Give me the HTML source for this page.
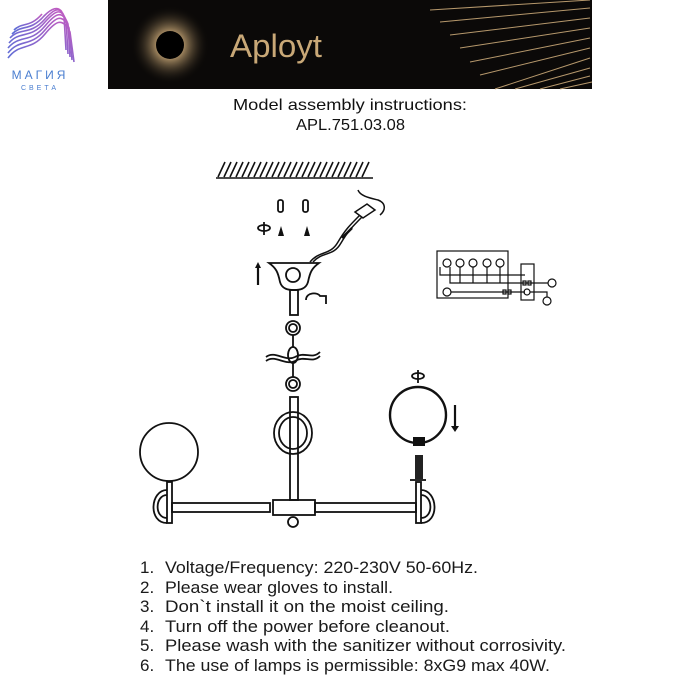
<!DOCTYPE html>
<html><head><meta charset="utf-8"><style>
html,body{margin:0;padding:0;background:#fff;width:700px;height:700px;overflow:hidden}
svg{display:block}
</style></head><body>
<svg width="700" height="700" viewBox="0 0 700 700" xmlns="http://www.w3.org/2000/svg">
<defs>
<linearGradient id="lg" x1="0" y1="1" x2="1" y2="0"><stop offset="0" stop-color="#5a6fd8"/><stop offset="1" stop-color="#c25bc0"/></linearGradient>
<radialGradient id="sun" cx="0.5" cy="0.5" r="0.5"><stop offset="0.3" stop-color="#c9a877"/><stop offset="1" stop-color="#000" stop-opacity="0"/></radialGradient>
</defs>
<!-- logo -->
<g fill="none" stroke="url(#lg)" stroke-width="1.6">
<path d="M8 58 C20 42 30 52 45 34 C55 22 62 16 70 32 L74 62"/>
<path d="M8 53 C20 38 30 48 45 30 C55 18 62 12 69 28 L72 60"/>
<path d="M8 48 C20 34 30 44 45 26 C55 14 62 9 68 24 L70 57"/>
<path d="M9 43 C20 30 30 40 45 22 C55 11 61 7 66 20 L68 54"/>
<path d="M10 38 C20 27 30 36 45 19 C54 9 60 6 64 16 L66 50"/>
<path d="M12 34 C22 24 30 32 44 16 C52 8 58 6 62 12"/>
<path d="M14 30 C22 22 30 28 42 14"/>
</g>
<text x="40" y="79" text-anchor="middle" font-family="Liberation Sans, DejaVu Sans, sans-serif" font-size="12" letter-spacing="3" fill="#4a7ed0">МАГИЯ</text>
<text x="40" y="90" text-anchor="middle" font-family="Liberation Sans, DejaVu Sans, sans-serif" font-size="7" letter-spacing="3" fill="#4a7ed0">СВЕТА</text>
<!-- banner -->
<rect x="108" y="0" width="484" height="89" fill="#0b0908"/>
<circle cx="170" cy="45" r="40" fill="url(#sun)" opacity="0.9"/>
<circle cx="170" cy="45" r="14" fill="#000"/>
<g stroke="#c9a877" stroke-width="1" opacity="0.9">
<line x1="430" y1="10" x2="590" y2="0"/><line x1="440" y1="22" x2="590" y2="8"/><line x1="450" y1="35" x2="590" y2="18"/>
<line x1="460" y1="48" x2="590" y2="28"/><line x1="470" y1="62" x2="590" y2="38"/><line x1="480" y1="75" x2="590" y2="48"/>
<line x1="495" y1="89" x2="590" y2="58"/><line x1="515" y1="89" x2="590" y2="68"/><line x1="540" y1="89" x2="590" y2="76"/>
<line x1="560" y1="89" x2="592" y2="82"/>
</g>
<text x="230" y="57" font-family="Liberation Sans, sans-serif" font-size="32" fill="#c9a877" textLength="92" lengthAdjust="spacingAndGlyphs">Aployt</text>
<!-- titles -->
<g font-family="Liberation Sans, sans-serif" font-size="16" fill="#111">
<text x="233" y="110" textLength="234" lengthAdjust="spacingAndGlyphs">Model assembly instructions:</text>
<text x="296" y="130" textLength="109" lengthAdjust="spacingAndGlyphs">APL.751.03.08</text>
</g>
<!-- ceiling -->
<g stroke="#111" stroke-width="1.6" fill="none">
<line x1="216" y1="178" x2="373" y2="178"/>
<path d="M218 177 l7 -15 M224 177 l7 -15 M230 177 l7 -15 M236 177 l7 -15 M242 177 l7 -15 M248 177 l7 -15 M254 177 l7 -15 M260 177 l7 -15 M266 177 l7 -15 M272 177 l7 -15 M278 177 l7 -15 M284 177 l7 -15 M290 177 l7 -15 M296 177 l7 -15 M302 177 l7 -15 M308 177 l7 -15 M314 177 l7 -15 M320 177 l7 -15 M326 177 l7 -15 M332 177 l7 -15 M338 177 l7 -15 M344 177 l7 -15 M350 177 l7 -15 M356 177 l7 -15 M362 177 l7 -15"/>
</g>
<!-- screws and plugs -->
<g stroke="#111" stroke-width="1.8" fill="none">
<rect x="278" y="200" width="5" height="12" rx="2"/><rect x="303" y="200" width="5" height="12" rx="2"/>
<ellipse cx="264" cy="228" rx="6" ry="3"/><line x1="264" y1="222" x2="264" y2="235"/>
</g>
<path d="M278 236 l3 -10 l3 10 z M304 236 l3 -10 l3 10 z" fill="#111"/>
<!-- wire -->
<g stroke="#111" stroke-width="1.5" fill="none">
<path d="M310 262 C320 250 330 256 338 242 C345 230 350 225 360 215"/>
<path d="M313 262 C323 251 333 257 341 243 C348 231 353 226 362 217"/>
<path d="M358 190 C360 196 370 198 378 200 C386 203 386 210 380 215"/>
<path d="M355 212 l12 -8 l8 6 l-12 8 z"/>
<line x1="342" y1="238" x2="352" y2="228" stroke-width="2.5"/>
</g>
<!-- canopy -->
<g stroke="#111" stroke-width="1.8" fill="none">
<path d="M269 263 L319 263 C312 268 310 272 308 282 C306 289 300 290 294 290 C288 290 282 289 280 282 C278 272 276 268 269 263 Z"/>
<circle cx="293" cy="275" r="7"/>
<rect x="290" y="290" width="8" height="25"/>
<path d="M306 300 C306 292 318 292 320 296 L326 296 L326 304"/>
<line x1="258" y1="285" x2="258" y2="266" stroke-width="2.2"/>
</g>
<path d="M255 268 l3 -6 l3 6 z M451 426 l4 6 l4 -6 z" fill="#111"/>
<!-- chain -->
<g stroke="#111" stroke-width="1.8" fill="none">
<circle cx="293" cy="328" r="7"/><circle cx="293" cy="328" r="4"/>
<ellipse cx="293" cy="355" rx="5" ry="8"/>
<circle cx="293" cy="384" r="7"/><circle cx="293" cy="384" r="4"/>
<path d="M266 357 C275 350 285 362 295 357 C305 351 312 360 320 352"/>
<path d="M266 361 C275 354 285 366 295 361 C305 355 312 364 320 356"/>
<line x1="293" y1="335" x2="293" y2="347"/><line x1="293" y1="363" x2="293" y2="377"/>
<rect x="290" y="397" width="8" height="103"/>
<ellipse cx="293" cy="433" rx="19" ry="21"/><ellipse cx="293" cy="433" rx="14" ry="16"/>
<rect x="273" y="500" width="42" height="15"/>
<circle cx="293" cy="522" r="5"/>
<rect x="172" y="503" width="98" height="9"/><rect x="315" y="503" width="101" height="9"/>
<circle cx="169" cy="452" r="29"/>
<rect x="167" y="482" width="5" height="41"/>
<path d="M167 490 C150 490 148 523 167 523"/><path d="M167 495 C155 495 154 518 167 518"/>
<circle cx="418" cy="415" r="28" stroke-width="2.4"/>
<rect x="416" y="482" width="5" height="41"/>
<path d="M421 490 C438 490 440 523 421 523"/><path d="M421 495 C433 495 434 518 421 518"/>
<ellipse cx="418" cy="376" rx="6" ry="3"/><line x1="418" y1="370" x2="418" y2="383"/>
<line x1="455" y1="405" x2="455" y2="428" stroke-width="2.2"/>
<line x1="410" y1="480" x2="426" y2="480"/>
</g>
<rect x="413" y="437" width="12" height="9" fill="#111"/>
<rect x="415" y="455" width="8" height="24" fill="#222"/>
<!-- wiring diagram -->
<g stroke="#111" stroke-width="1.2" fill="none">
<rect x="437" y="251" width="71" height="47"/>
<rect x="521" y="264" width="13" height="36"/>
<circle cx="447" cy="263" r="4"/><circle cx="460" cy="263" r="4"/><circle cx="473" cy="263" r="4"/><circle cx="487" cy="263" r="4"/><circle cx="500" cy="263" r="4"/>
<path d="M440 267 L440 275 L525 275 M450 267 L450 283 L530 283 M460 267 L460 283 M473 267 L473 283 M487 267 L487 283 M500 267 L500 283"/>
<circle cx="447" cy="292" r="4"/><line x1="451" y1="292" x2="525" y2="292"/>
<line x1="530" y1="283" x2="548" y2="283"/><circle cx="552" cy="283" r="4"/>
<circle cx="527" cy="292" r="3"/><path d="M530 292 L547 292 L547 297"/><circle cx="547" cy="301" r="4"/>
<rect x="503" y="290" width="3" height="4"/><rect x="508" y="290" width="3" height="4"/>
<rect x="523" y="281" width="3" height="4"/><rect x="528" y="281" width="3" height="4"/>
</g>
<!-- notes -->
<g font-family="Liberation Sans, sans-serif" font-size="17" fill="#1a1a1a">
<text x="140" y="573">1.</text><text x="165" y="573" textLength="313" lengthAdjust="spacingAndGlyphs">Voltage/Frequency: 220-230V 50-60Hz.</text>
<text x="140" y="593">2.</text><text x="165" y="593" textLength="228" lengthAdjust="spacingAndGlyphs">Please wear gloves to install.</text>
<text x="140" y="612">3.</text><text x="165" y="612" textLength="284" lengthAdjust="spacingAndGlyphs">Don`t install it on the moist ceiling.</text>
<text x="140" y="632">4.</text><text x="165" y="632" textLength="285" lengthAdjust="spacingAndGlyphs">Turn off the power before cleanout.</text>
<text x="140" y="651">5.</text><text x="165" y="651" textLength="401" lengthAdjust="spacingAndGlyphs">Please wash with the sanitizer without corrosivity.</text>
<text x="140" y="671">6.</text><text x="165" y="671" textLength="385" lengthAdjust="spacingAndGlyphs">The use of lamps is permissible: 8xG9 max 40W.</text>
</g>
</svg>
</body></html>
